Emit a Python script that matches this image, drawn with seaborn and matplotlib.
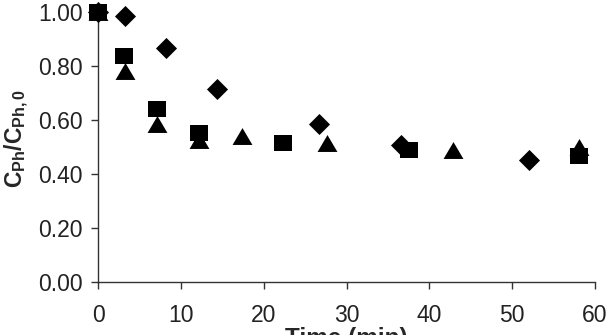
import matplotlib
matplotlib.use("Agg")
import matplotlib.pyplot as plt
import seaborn as sns
import pandas as pd

# Data
t_diamond = [0, 3.2, 8.2, 14.3, 26.7, 36.6, 52.1]
c_diamond = [1.00, 0.985, 0.865, 0.714, 0.585, 0.507, 0.452]

t_square = [0, 3.1, 7.1, 12.2, 22.3, 37.6, 58.1]
c_square = [1.00, 0.837, 0.640, 0.553, 0.516, 0.489, 0.467]

t_triangle = [0, 3.2, 7.1, 12.2, 17.4, 27.6, 42.9, 58.1]
c_triangle = [1.00, 0.779, 0.585, 0.526, 0.540, 0.513, 0.489, 0.500]

x_ticks = [0, 10, 20, 30, 40, 50, 60]
y_ticks = [0.0, 0.2, 0.4, 0.6, 0.8, 1.0]

sns.set_theme(style="ticks")
plt.rcParams['font.family'] = ['Liberation Sans', 'DejaVu Sans']
plt.rcParams['mathtext.fontset'] = 'custom'
plt.rcParams['mathtext.rm'] = 'Liberation Sans'
plt.rcParams['mathtext.bf'] = 'Liberation Sans:bold'
plt.rcParams['mathtext.it'] = 'Liberation Sans:italic'

# marker shapes (slightly wide, as in the reference)
m_square = [(-1.0, -0.86), (1.0, -0.86), (1.0, 0.86), (-1.0, 0.86), (-1.0, -0.86)]
m_triangle = [(0.0, 0.85), (-1.0, -0.85), (1.0, -0.85), (0.0, 0.85)]
m_diamond = [(0.0, 1.0), (1.0, 0.0), (0.0, -1.0), (-1.0, 0.0), (0.0, 1.0)]

fig = plt.figure(figsize=(6.13, 3.35), dpi=100)
ax = fig.add_axes([0.1604, 0.158, 0.81, 0.807])

d1 = pd.DataFrame({"t": t_diamond, "c": c_diamond})
d2 = pd.DataFrame({"t": t_triangle, "c": c_triangle})
d3 = pd.DataFrame({"t": t_square, "c": c_square})

sns.scatterplot(data=d1, x="t", y="c", marker=m_diamond, s=230, color="black",
                edgecolor="black", linewidth=0, ax=ax, zorder=3, clip_on=False)
sns.scatterplot(data=d2, x="t", y="c", marker=m_triangle, s=205, color="black",
                edgecolor="black", linewidth=0, ax=ax, zorder=4, clip_on=False)
sns.scatterplot(data=d3, x="t", y="c", marker=m_square, s=170, color="black",
                edgecolor="black", linewidth=0, ax=ax, zorder=5, clip_on=False)

ax.set_xlim(0, 60)
ax.set_ylim(0, 1.0)
ax.set_xticks(x_ticks)
ax.set_xticklabels([str(v) for v in x_ticks])
ax.set_yticks(y_ticks)
ax.set_yticklabels([f"{v:.2f}" for v in y_ticks])
ax.tick_params(axis="both", labelsize=16.5, length=5, width=1, colors="#333333",
               labelcolor="#222222", direction="out")
ax.tick_params(axis="x", pad=11)
ax.tick_params(axis="y", pad=6)
for side in ["top", "right"]:
    ax.spines[side].set_visible(False)
for side in ["left", "bottom"]:
    ax.spines[side].set_color("#333333")
    ax.spines[side].set_linewidth(1)

ax.set_xlabel("Time (min)", fontsize=17.5, fontweight="bold", labelpad=0)
ax.set_ylabel(r"$\mathbf{C_{Ph}/C_{Ph,0}}$", fontsize=16.5, labelpad=4)
ax.yaxis.set_label_coords(-0.136, 0.53)

fig.savefig("out.png", dpi=100)
